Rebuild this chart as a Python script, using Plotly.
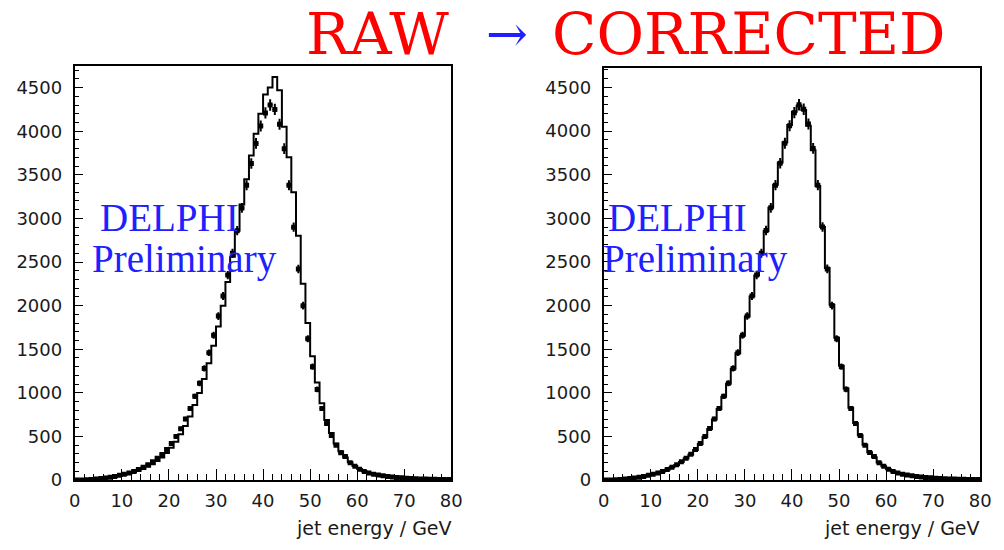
import plotly.graph_objects as go

# 1 GeV bins from 0 to 80
bin_edges = list(range(0, 81))

# data (points), same in both panels
data_counts = [0, 2, 5, 8, 12, 18, 25, 32, 42, 55,
               68, 82, 100, 122, 148, 175, 210, 250, 295, 350,
               420, 500, 590, 700, 820, 960, 1110, 1280, 1460, 1660,
               1880, 2110, 2350, 2600, 2860, 3120, 3380, 3630, 3860, 4060,
               4210, 4300, 4250, 4080, 3800, 3380, 2900, 2420, 2000, 1620,
               1300, 1040, 820, 650, 510, 400, 315, 270, 200, 158,
               124, 100, 82, 68, 58, 50, 42, 36, 30, 26,
               22, 19, 16, 14, 12, 10, 9, 8, 7, 6]

# raw simulation (left panel line)
raw_mc = [0, 1, 3, 6, 10, 15, 21, 28, 37, 48,
          60, 73, 88, 106, 128, 153, 183, 218, 260, 310,
          370, 440, 525, 620, 730, 860, 1000, 1160, 1340, 1540,
          1760, 2000, 2270, 2560, 2860, 3160, 3450, 3720, 3970, 4200,
          4420, 4500, 4620, 4470, 4050, 3700, 3300, 2800, 2250, 1800,
          1420, 1120, 880, 690, 540, 420, 330, 260, 205, 162,
          128, 102, 82, 66, 54, 45, 38, 32, 27, 23,
          20, 17, 14, 12, 10, 9, 8, 7, 6, 5]

# corrected simulation (right panel line)
corr_mc = [0, 2, 4, 7, 11, 17, 24, 31, 41, 53,
           66, 80, 98, 120, 146, 174, 208, 248, 292, 346,
           415, 495, 585, 695, 815, 955, 1105, 1275, 1455, 1655,
           1875, 2105, 2345, 2595, 2855, 3120, 3385, 3640, 3870, 4070,
           4220, 4290, 4240, 4060, 3780, 3370, 2900, 2430, 2010, 1630,
           1310, 1050, 830, 655, 515, 405, 318, 262, 202, 158,
           124, 100, 81, 67, 57, 49, 42, 36, 30, 26,
           22, 19, 16, 14, 12, 10, 9, 8, 7, 6]

x_ticks = [0, 10, 20, 30, 40, 50, 60, 70, 80]
y_ticks = [0, 500, 1000, 1500, 2000, 2500, 3000, 3500, 4000, 4500]

centers = [(bin_edges[i] + bin_edges[i + 1]) / 2 for i in range(len(bin_edges) - 1)]
half_widths = [(bin_edges[i + 1] - bin_edges[i]) / 2 for i in range(len(bin_edges) - 1)]


def step_xy(values):
    xs = list(bin_edges)
    ys = list(values) + [values[-1]]
    return xs, ys


fig = go.Figure()

for vals, xa, ya in [(raw_mc, "x", "y"), (corr_mc, "x2", "y2")]:
    sx, sy = step_xy(vals)
    fig.add_trace(go.Scatter(x=sx, y=sy, mode="lines", line=dict(color="black", width=2, shape="hv"),
                             xaxis=xa, yaxis=ya, showlegend=False, hoverinfo="skip"))

for xa, ya in [("x", "y"), ("x2", "y2")]:
    fig.add_trace(go.Scatter(x=centers, y=data_counts, mode="markers",
                             marker=dict(color="black", size=5, symbol="square"),
                             error_y=dict(type="sqrt", color="black", thickness=2, width=0),
                             error_x=dict(type="data", array=half_widths, color="black", thickness=1.5, width=0),
                             xaxis=xa, yaxis=ya, showlegend=False))

tickfont = dict(family="DejaVu Sans", size=18, color="#1a1a1a")

xcommon = dict(range=[0, 80], tickvals=x_ticks, ticks="inside", ticklen=11, tickwidth=1.2,
               tickcolor="black", showline=True, linewidth=2, linecolor="black", mirror=True,
               showgrid=False, zeroline=False, tickfont=tickfont, ticklabelstandoff=3,
               minor=dict(dtick=2, ticks="inside", ticklen=6, tickwidth=1.2, tickcolor="black", showgrid=False))
ycommon = dict(tickvals=y_ticks, ticks="inside", ticklen=8, tickwidth=1.2,
               tickcolor="black", showline=True, linewidth=2, linecolor="black", mirror=True,
               showgrid=False, zeroline=False, tickfont=tickfont, ticklabelstandoff=7,
               minor=dict(dtick=100, ticks="inside", ticklen=4, tickwidth=1.2, tickcolor="black", showgrid=False))

W, H = 1004, 550
fig.update_layout(
    width=W, height=H, margin=dict(l=0, r=0, t=0, b=0),
    paper_bgcolor="white", plot_bgcolor="white",
    xaxis=dict(domain=[70 / W, 453 / W], anchor="y", **xcommon),
    yaxis=dict(domain=[61 / H, 483 / H], range=[0, 4750], anchor="x", **ycommon),
    xaxis2=dict(domain=[608 / W, 991 / W], anchor="y2", **xcommon),
    yaxis2=dict(domain=[61 / H, 481 / H], range=[0, 4725], anchor="x2", **ycommon),
)

annotations = []
# title pieces
title_font = dict(family="DejaVu Serif", size=58, color="#ff0000")
annotations.append(dict(text="RAW", xref="paper", yref="paper", x=303 / W, y=1 - 35 / H,
                        xanchor="left", yanchor="middle", showarrow=False, font=title_font))
annotations.append(dict(text="\u2192", xref="paper", yref="paper", x=510 / W, y=1 - 35 / H,
                        xanchor="center", yanchor="middle", showarrow=False,
                        font=dict(family="DejaVu Serif", size=50, color="#1f1fff")))
annotations.append(dict(text="CORRECTED", xref="paper", yref="paper", x=958 / W, y=1 - 35 / H,
                        xanchor="right", yanchor="middle", showarrow=False, font=title_font))
# axis titles
for xr in ["x domain", "x2 domain"]:
    annotations.append(dict(text="jet energy / GeV", xref=xr, yref="paper", x=1.006, y=1 - 538 / H,
                            xanchor="right", yanchor="middle", showarrow=False,
                            font=dict(family="DejaVu Sans", size=19, color="#1a1a1a")))
# DELPHI Preliminary labels
for (dx, px) in [(94, 85), (610, 605)]:
    annotations.append(dict(text="DELPHI", xref="paper", yref="paper", x=dx / W, y=1 - 222 / H,
                            xanchor="left", yanchor="middle", showarrow=False,
                            font=dict(family="Liberation Serif", size=39, color="#2020ff")))
    annotations.append(dict(text="Preliminary", xref="paper", yref="paper", x=px / W, y=1 - 264 / H,
                            xanchor="left", yanchor="middle", showarrow=False,
                            font=dict(family="Liberation Serif", size=39, color="#2020ff")))
fig.update_layout(annotations=annotations)

fig.write_html("out.html")
